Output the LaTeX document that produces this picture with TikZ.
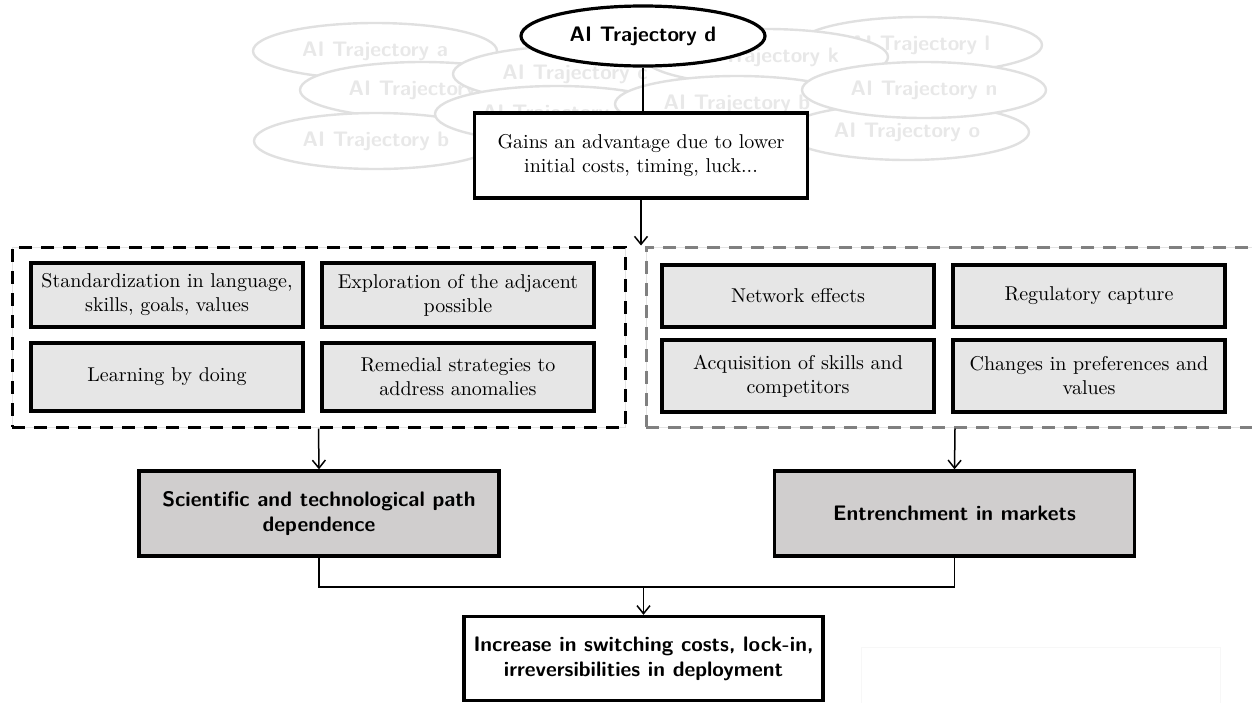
\documentclass[tikz,border=0pt]{standalone}
\usetikzlibrary{shapes.geometric,arrows.meta}
\definecolor{darkfill}{HTML}{D0CECE}
\definecolor{lightfill}{HTML}{E6E6E6}
\definecolor{ghostline}{HTML}{E0E0E0}
\definecolor{ghosttext}{HTML}{E8E8E8}
\definecolor{groupgray}{HTML}{808080}
\newcommand{\headfont}{\fontsize{10.5}{12.6}\selectfont\sffamily\bfseries}
\newcommand{\itemfont}{\fontsize{10}{12}\selectfont}
\begin{document}
\begin{tikzpicture}[x=0.5pt,y=-0.5pt,
  ghost/.style={ellipse, draw=ghostline, fill=white, line width=1.2pt,
    minimum width=122pt, minimum height=28pt, inner sep=0pt,
    text=ghosttext, font=\headfont},
  traj/.style={ellipse, draw=black, fill=white, line width=1.6pt,
    minimum width=122pt, minimum height=30pt, inner sep=0pt,
    font=\headfont},
  factor/.style={rectangle, draw=black, fill=lightfill, line width=1.6pt,
    minimum width=136pt, align=center, font=\itemfont, inner sep=2pt},
  outcome/.style={rectangle, draw=black, fill=darkfill, line width=1.7pt,
    minimum width=180pt, minimum height=42.5pt, align=center,
    font=\headfont},
  plainbox/.style={rectangle, draw=black, fill=white, line width=1.7pt,
    align=center},
  groupbox/.style={rectangle, draw, dash pattern=on 6.5pt off 4.5pt,
    line width=1.5pt, minimum height=90pt, inner sep=0pt},
  underlay/.style={draw=gray!22, line width=0.4pt},
  link/.style={line width=0.75pt},
  arrowlink/.style={link, -{Straight Barb[length=4pt,width=6.5pt]}}
]
\useasboundingbox (0,0) rectangle (1252,702);

% competing trajectories in the background
\node[ghost] (ta) at (375,51) {AI Trajectory a};
\node[ghost] (tl) at (920,45) {AI Trajectory l};
\node[ghost] (tb) at (422,90) {AI Trajectory b};
\node[ghost] (tc) at (575,74) {AI Trajectory c};
\node[ghost] (tk) at (766,57) {AI Trajectory k};
\node[ghost] (tbb) at (376,141) {AI Trajectory b};
\node[ghost] (te) at (557,114) {\makebox[75pt][l]{AI Trajectory}};
\node[ghost] (th) at (737,104) {AI Trajectory b};
\node[ghost] (to) at (907,132) {AI Trajectory o};
\node[ghost] (tn) at (924,90) {AI Trajectory n};

% the winning trajectory
\node[traj] (td) at (643,36) {AI Trajectory d};
\node[plainbox, minimum width=166.5pt, minimum height=42.5pt] (gain)
  at (641,155.5) {Gains an advantage due to lower\\initial costs, timing, luck...};

% mechanism groups
\draw[underlay] (12,247) rectangle (625,427);
\draw[underlay] (646,247) rectangle (1264,427);
\node[groupbox, draw=black, minimum width=306.5pt] (lgroup) at (318.5,337) {};
\node[groupbox, draw=groupgray, minimum width=309pt] (rgroup) at (955,337) {};

\node[factor, minimum height=32pt] (f1) at (167,295) {Standardization in language,\\skills, goals, values};
\node[factor, minimum height=32pt] (f2) at (458,295) {Exploration of the adjacent\\possible};
\node[factor, minimum height=34pt] (f3) at (167,377) {Learning by doing};
\node[factor, minimum height=34pt] (f4) at (458,377) {Remedial strategies to\\address anomalies};
\node[factor, minimum height=31pt] (f5) at (798,296) {Network effects};
\node[factor, minimum height=31pt] (f6) at (1089,296) {Regulatory capture};
\node[factor, minimum height=36pt] (f7) at (798,376) {Acquisition of skills and\\competitors};
\node[factor, minimum height=36pt] (f8) at (1089,376) {Changes in preferences and\\values};

% outcomes
\node[outcome] (sci) at (319,513.5) {Scientific and technological path\\dependence};
\node[outcome] (ent) at (954.5,513.5) {Entrenchment in markets};
\node[plainbox, minimum width=179.5pt, minimum height=42pt,
  font=\headfont] (lock) at (643.5,658.5)
  {Increase in switching costs, lock-in,\\irreversibilities in deployment};

% faint empty frame, lower right
\draw[draw=gray!6, line width=0.4pt] (861,647) rectangle (1220,712);

% connectors
\draw[link] (td.south) -- (td.south |- gain.north);
\draw[arrowlink] (gain.south) -- (gain.south |- rgroup.north);
\draw[arrowlink] (lgroup.south) -- (sci.north);
\draw[arrowlink] (rgroup.south) -- (ent.north);
\coordinate (join) at (643.5,587);
\draw[link] (sci.south) |- (join) -| (ent.south);
\draw[arrowlink] (join) -- (lock.north);
\end{tikzpicture}
\end{document}
